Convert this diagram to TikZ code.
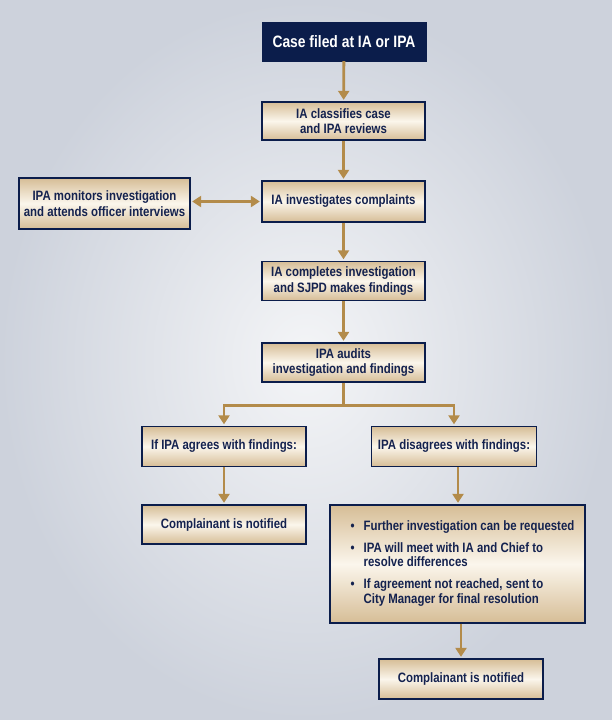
\documentclass[tikz,border=0pt]{standalone}
\usepackage{fontspec}
\setmainfont{Liberation Sans}[FakeStretch=0.84]
\usepackage{tikz}
\usetikzlibrary{arrows.meta}
\definecolor{navy}{HTML}{0B1D4B}
\definecolor{inknavy}{HTML}{14224F}
\definecolor{gold}{HTML}{B38B4A}
\definecolor{tan}{HTML}{D6BD96}
\definecolor{cream}{HTML}{FBF6EC}
\definecolor{bgout}{HTML}{CDD2DC}
\definecolor{bgin}{HTML}{F4F5F7}

\begin{document}
\begin{tikzpicture}[x=1pt, y=-1pt,
   box/.style={draw=navy, line width=1.3pt, shading=axis, top color=tan, bottom color=tan, middle color=cream,
     text=inknavy, align=center, inner sep=0pt, font=\bfseries\fontsize{13.6}{15.5}\selectfont},
   arr/.style={draw=gold, line width=2.8pt, shorten >=1.5pt, -{Triangle[width=11pt,length=9pt]}},
   link/.style={draw=gold, line width=2.8pt}]

   \useasboundingbox (0,0) rectangle (612,720);
   \fill[inner color=bgin, outer color=bgout] (0,0) rectangle (612,720);

   \node[draw=navy, fill=navy, text=white, font=\bfseries\fontsize{16.5}{19}\selectfont,
     minimum width=164pt, minimum height=39pt, inner sep=0pt] (case) at (344,41.5) {Case filed at IA or IPA};
   \node[box, minimum width=163pt, minimum height=38pt] (classify) at (343.5,121) {IA classifies case\\and IPA reviews};
   \node[box, minimum width=171pt, minimum height=51pt] (monitor) at (104.5,203.5) {IPA monitors investigation\\and attends officer interviews};
   \node[box, minimum width=163pt, minimum height=41pt] (investigate) at (343.5,201.5) {IA investigates complaints};
   \node[box, minimum width=163pt, minimum height=39pt] (complete) at (343.5,281) {IA completes investigation\\and SJPD makes findings};
   \node[box, minimum width=163pt, minimum height=39pt] (audit) at (343.5,362.5) {IPA audits\\investigation and findings};
   \node[box, minimum width=164pt, minimum height=40pt] (agree) at (224,446.5) {If IPA agrees with findings:};
   \node[box, minimum width=165pt, minimum height=40pt] (disagree) at (454,446.5) {IPA disagrees with findings:};
   \node[box, minimum width=164pt, minimum height=39pt] (notifyA) at (224,524.5) {Complainant is notified};
   \node[box, minimum width=255pt, minimum height=118pt, align=left,
     font=\bfseries\fontsize{13.6}{14.8}\selectfont] (further) at (457.5,564) {\hspace*{10pt}%
     \begin{tabular}{@{}l@{\hspace{9pt}}l@{}}
       \textbullet & Further investigation can be requested\\[7pt]
       \textbullet & IPA will meet with IA and Chief to\\
                   & resolve differences\\[7pt]
       \textbullet & If agreement not reached, sent to\\
                   & City Manager for final resolution
     \end{tabular}};
   \node[box, minimum width=164pt, minimum height=40pt] (notifyB) at (461,679) {Complainant is notified};

   \draw[arr] (case) -- (classify);
   \draw[arr] (classify) -- (investigate);
   \draw[arr, shorten <=1.5pt, {Triangle[width=11pt,length=9pt]}-{Triangle[width=11pt,length=9pt]}] (monitor.east |- investigate) -- (investigate.west);
   \draw[arr] (investigate) -- (complete);
   \draw[arr] (complete) -- (audit);
   \draw[link] (audit.south) -- ++(0,23) coordinate (split);
   \draw[arr] ([xshift=1.4pt]split) -| (agree.north);
   \draw[arr] ([xshift=-1.4pt]split) -| (disagree.north);
   \draw[arr] (agree) -- (notifyA);
   \draw[arr] ([xshift=4pt]disagree.south) -- ([xshift=4pt]disagree.south |- further.north);
   \draw[arr] (further.south -| notifyB.north) -- (notifyB.north);

\end{tikzpicture}
\end{document}
